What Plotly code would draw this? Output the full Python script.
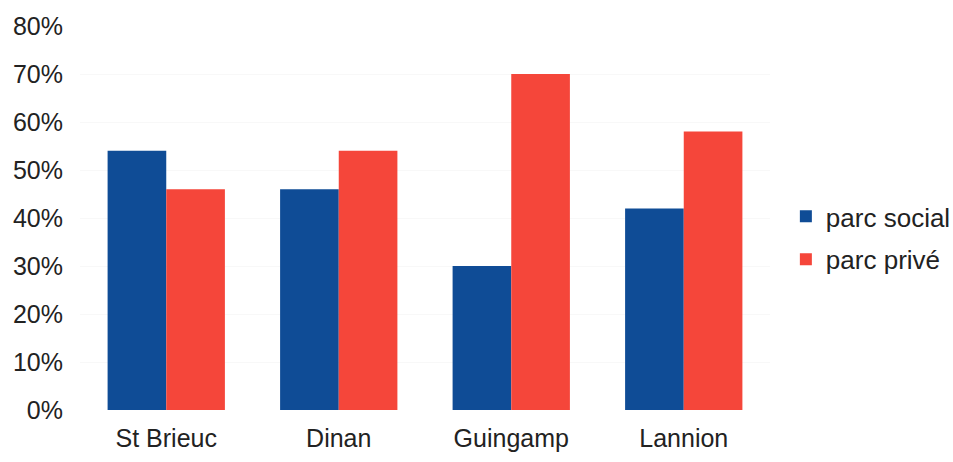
import plotly.graph_objects as go

categories = ["St Brieuc", "Dinan", "Guingamp", "Lannion"]
parc_social = [0.54, 0.46, 0.30, 0.42]
parc_prive = [0.46, 0.54, 0.70, 0.58]
tick_vals = [0, 0.1, 0.2, 0.3, 0.4, 0.5, 0.6, 0.7, 0.8]
tick_text = ["0%", "10%", "20%", "30%", "40%", "50%", "60%", "70%", "80%"]

font = dict(family="Liberation Sans, Arial, sans-serif", size=25, color="#222222")

fig = go.Figure()
fig.add_trace(go.Bar(x=categories, y=parc_social, name="parc social",
                     marker_color="#0f4c96", marker_line_width=0,
                     legendgroup="a"))
fig.add_trace(go.Bar(x=categories, y=parc_prive, name="parc privé",
                     marker_color="#f5463a", marker_line_width=0,
                     legendgroup="b"))

fig.update_layout(
    width=953, height=462,
    margin=dict(l=80, r=183, t=26, b=52, autoexpand=False),
    paper_bgcolor="white", plot_bgcolor="white",
    font=font,
    barmode="group", bargap=0.32, bargroupgap=0,
    showlegend=True,
    legend=dict(x=1.023, xanchor="left", y=0.448, yanchor="middle",
                traceorder="grouped", tracegroupgap=6,
                font=dict(size=26), itemwidth=30),
    xaxis=dict(showgrid=False, showline=False, ticks="", tickfont=dict(size=25),
               ticklabelstandoff=11),
    yaxis=dict(range=[0, 0.8], tickvals=tick_vals, ticktext=tick_text,
               showgrid=True, gridcolor="#f8f8f8", zeroline=False,
               showline=False, ticks="", ticklabelstandoff=16,
               tickfont=dict(size=25)),
)

fig.write_html("out.html")
